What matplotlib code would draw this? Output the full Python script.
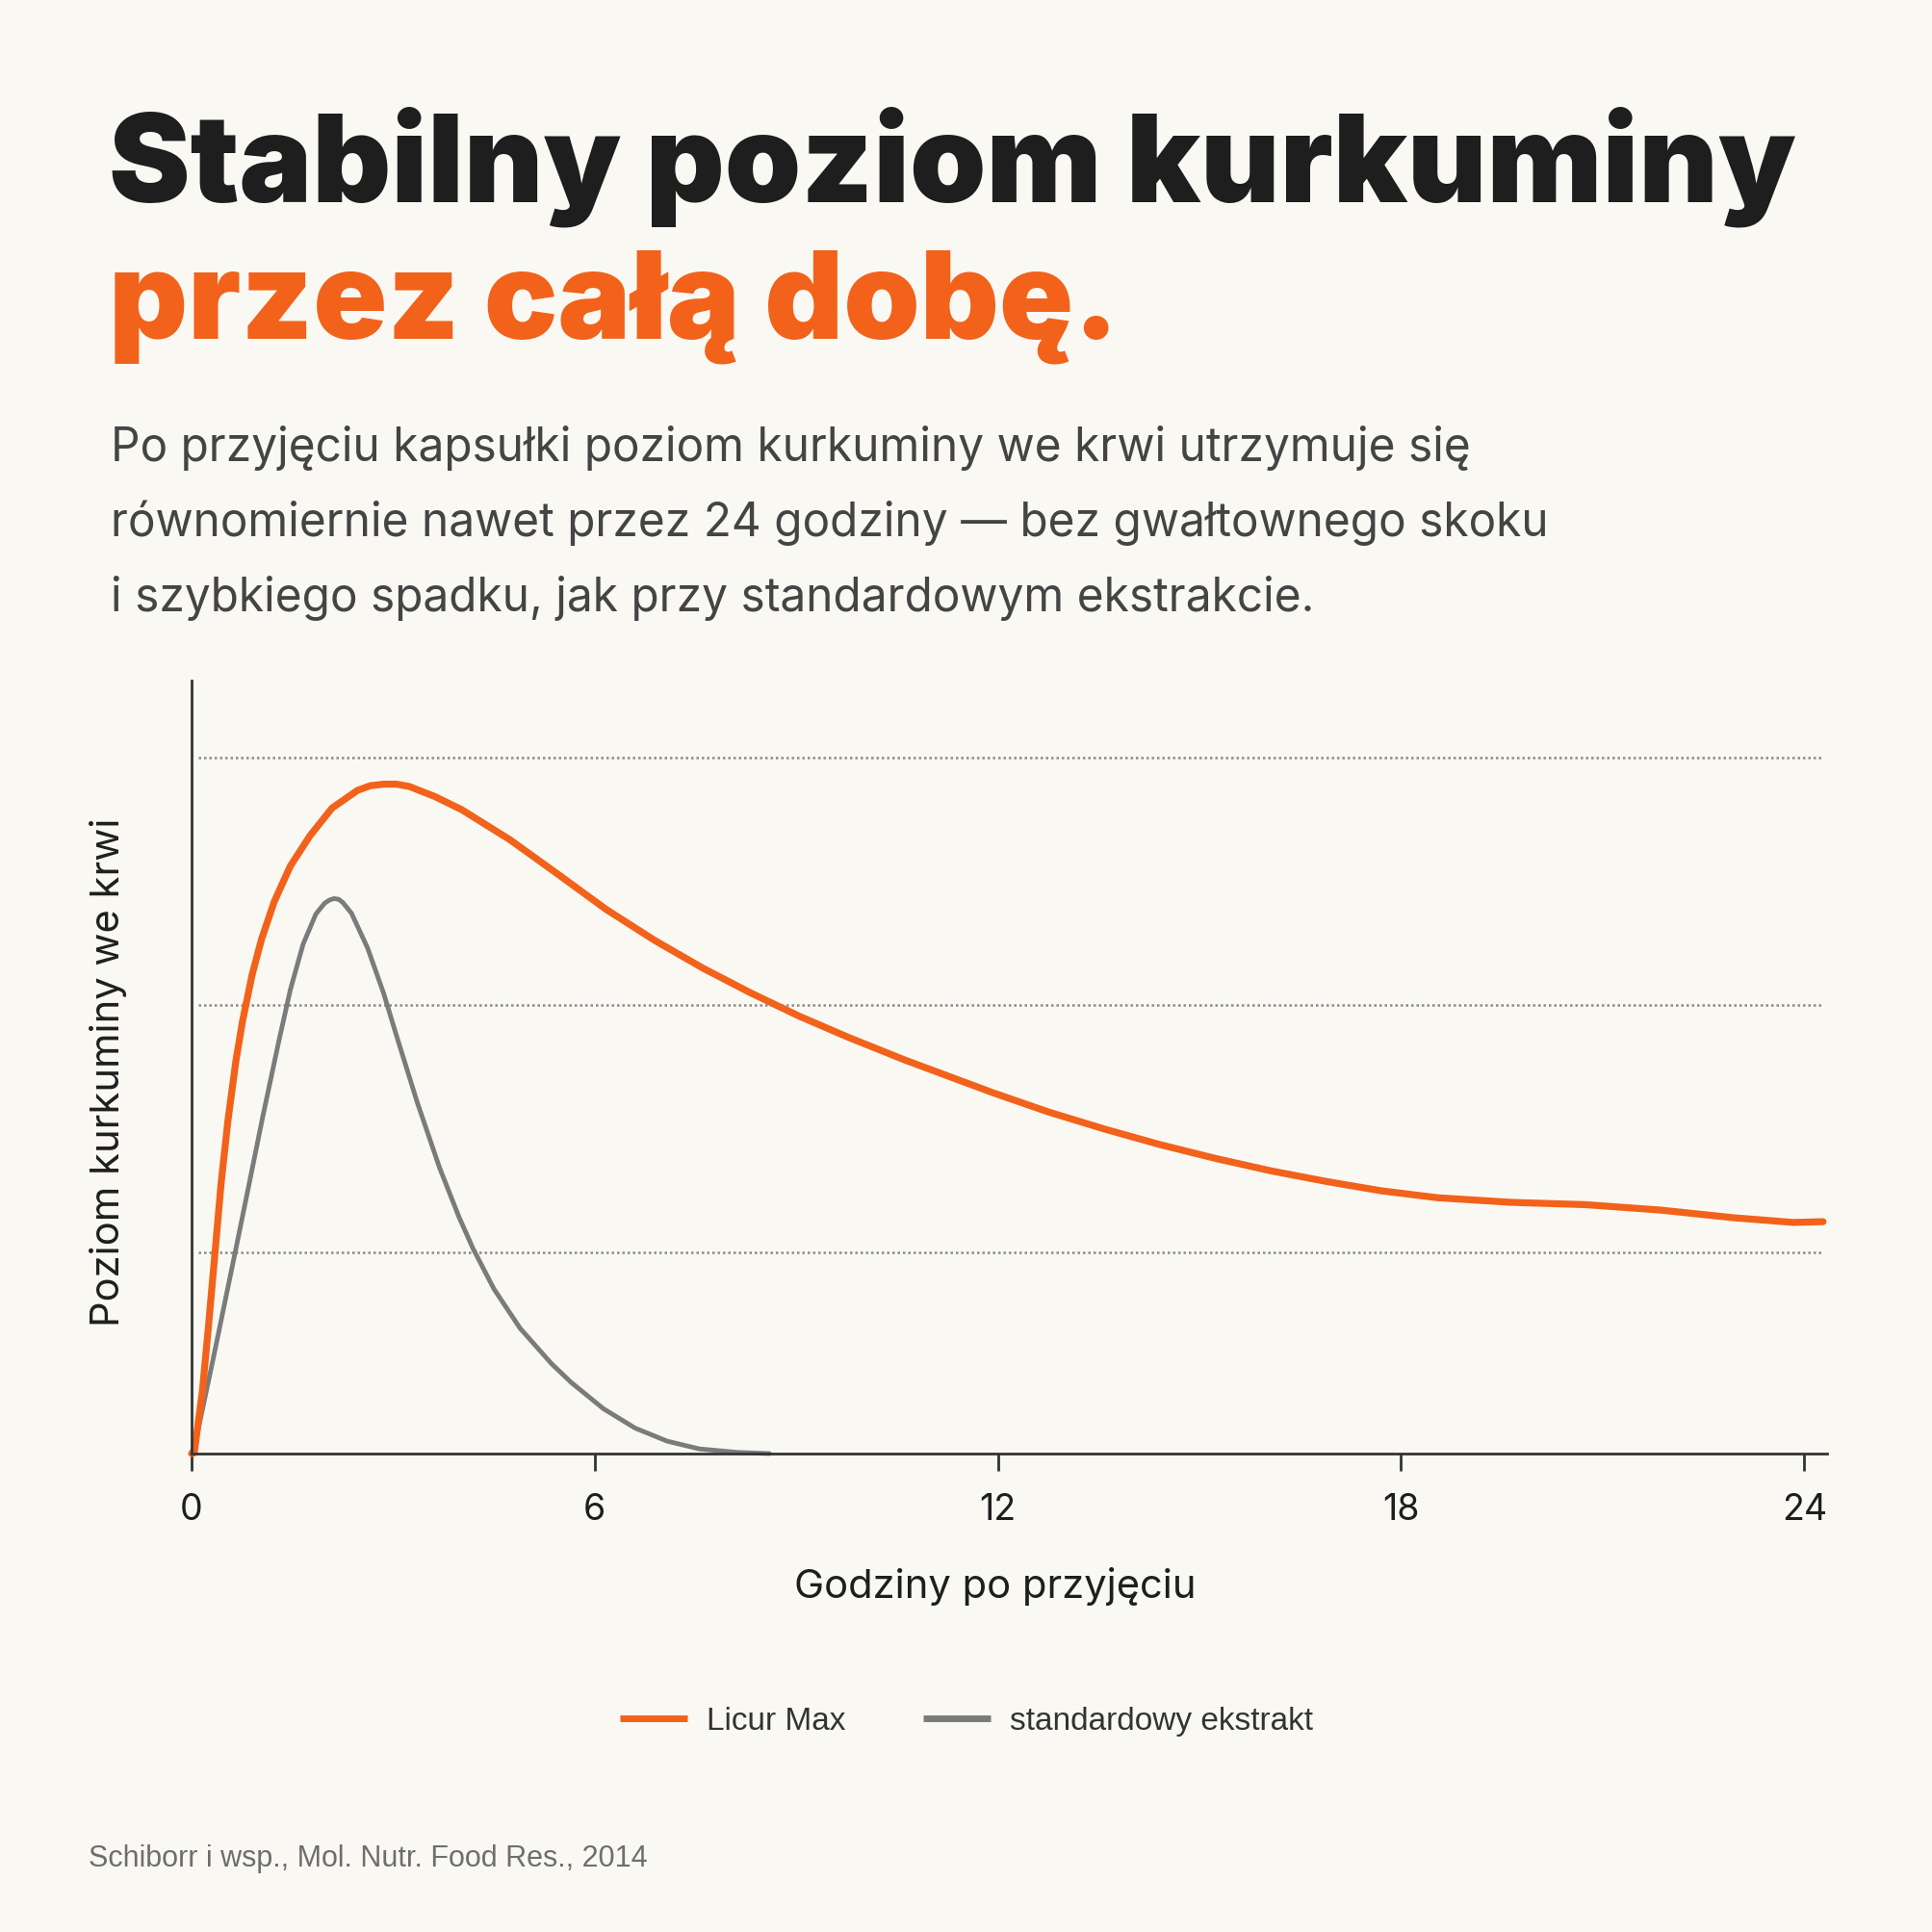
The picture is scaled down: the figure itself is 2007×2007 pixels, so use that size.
import matplotlib
matplotlib.use("Agg")
import matplotlib.pyplot as plt

# godziny i poziom (skala umowna 0-100)
hours_licur = [0, 0.04, 0.16, 0.25, 0.35, 0.44, 0.54, 0.66, 0.76, 0.90, 1.04, 1.23,
               1.47, 1.76, 2.09, 2.47, 2.66, 2.86, 3.05, 3.24, 3.62, 4.02, 4.74, 5.46,
               6.17, 6.89, 7.61, 8.32, 9.04, 9.76, 10.62, 11.92, 12.75, 13.58, 14.4,
               15.23, 16.05, 16.89, 17.7, 18.54, 19.64, 20.75, 21.86, 22.96, 23.84, 24.28]
level_licur = [0, 0.1, 8.0, 16.3, 26.1, 35.0, 43.0, 50.8, 56.0, 61.9, 66.5, 71.4,
               76.0, 79.9, 83.5, 85.8, 86.4, 86.6, 86.6, 86.3, 85.0, 83.3, 79.4, 74.9,
               70.4, 66.4, 62.8, 59.6, 56.6, 53.9, 50.9, 46.7, 44.2, 42.0, 40.0,
               38.2, 36.6, 35.2, 34.0, 33.1, 32.5, 32.2, 31.5, 30.5, 29.9, 30.0]

hours_std = [0, 0.086, 0.325, 0.56, 0.66, 0.85, 1.06, 1.30, 1.47, 1.66, 1.85, 1.98,
             2.05, 2.12, 2.19, 2.25, 2.38, 2.62, 2.86, 3.07, 3.36, 3.69, 3.98, 4.19,
             4.50, 4.89, 5.36, 5.65, 6.13, 6.60, 7.08, 7.56, 8.13, 8.6]
level_std = [0, 2.6, 12.4, 22.3, 26.5, 34.6, 43.6, 53.4, 60.0, 65.9, 69.8, 71.2,
             71.6, 71.8, 71.7, 71.3, 69.9, 65.4, 59.5, 53.5, 45.4, 37.0, 30.6, 26.5,
             21.3, 16.2, 11.6, 9.2, 5.8, 3.3, 1.6, 0.6, 0.15, 0]

x_ticks = [0, 6, 12, 18, 24]
grid_levels = [26, 58, 90]
series_names = ["Licur Max", "standardowy ekstrakt"]

BG = "#FAF8F3"
ORANGE = "#F2621A"
GREY = "#7B7B7B"
DARK = "#1E1E1E"
W = H = 2008

fig = plt.figure(figsize=(20.08, 20.08), dpi=100, facecolor=BG)


def fy(y):
    return 1 - y / H


def fit_width(txt, target_px):
    r = fig.canvas.get_renderer()
    w = txt.get_window_extent(renderer=r).width
    txt.set_fontsize(txt.get_fontsize() * target_px / w)


# naglowek
t1 = fig.text(113 / W, fy(210), "Stabilny poziom kurkuminy", family="Inter",
              fontweight="black", color=DARK, fontsize=100, va="baseline")
fit_width(t1, 1750)
t2 = fig.text(113 / W, fy(352), "przez całą dobę.", family="Inter",
              fontweight="black", color=ORANGE, fontsize=t1.get_fontsize(), va="baseline")

sub = ["Po przyjęciu kapsułki poziom kurkuminy we krwi utrzymuje się",
       "równomiernie nawet przez 24 godziny — bez gwałtownego skoku",
       "i szybkiego spadku, jak przy standardowym ekstrakcie."]
s0 = fig.text(115 / W, fy(479), sub[0], family="Inter", color="#444444",
              fontsize=30, va="baseline")
fit_width(s0, 1415)
for i, line in enumerate(sub[1:]):
    fig.text(115 / W, fy(557 + 78 * i), line, family="Inter", color="#444444",
             fontsize=s0.get_fontsize(), va="baseline")

# wykres
ax = fig.add_axes([199 / W, fy(1511), (1898 - 199) / W, (1511 - 708) / H])
ax.set_facecolor(BG)
ax.set_xlim(0, 24.34)
ax.set_ylim(0, 100)

for lvl in grid_levels:
    ax.plot([0.1, 24.25], [lvl, lvl], color="#8A8A8A", lw=1.8,
            ls=(0, (1, 1.2)), zorder=1)

l1, = ax.plot(hours_licur, level_licur, color=ORANGE, lw=5.2,
              solid_capstyle="round", solid_joinstyle="round", zorder=4, clip_on=False)
l2, = ax.plot(hours_std, level_std, color=GREY, lw=3.5,
              solid_capstyle="round", solid_joinstyle="round", zorder=3, clip_on=False)

for s in ["top", "right"]:
    ax.spines[s].set_visible(False)
for s in ["left", "bottom"]:
    ax.spines[s].set_color("#333333")
    ax.spines[s].set_linewidth(2)
    ax.spines[s].set_zorder(5)

ax.set_yticks([])
ax.set_xticks(x_ticks)
ax.tick_params(axis="x", direction="out", length=13, width=2, color="#333333",
               pad=16, labelsize=27, labelcolor=DARK)
for lab in ax.get_xticklabels():
    lab.set_family("Inter")

fig.text(1034 / W, fy(1660), "Godziny po przyjęciu", family="Inter", fontsize=30,
         color=DARK, ha="center", va="baseline")
fig.text(113 / W, fy(1114), "Poziom kurkuminy we krwi", family="Inter", fontsize=30,
         color=DARK, ha="center", va="center", rotation=90)

leg = ax.legend([l1, l2], series_names, loc="center", bbox_to_anchor=(0.5, fy(1789)),
                bbox_transform=fig.transFigure, ncol=2, frameon=False,
                prop={"family": "Liberation Sans", "size": 24}, labelcolor="#333333",
                handlelength=2.1, handletextpad=0.6, columnspacing=2.4)
for h in leg.get_lines():
    h.set_linewidth(5)
    h.set_solid_capstyle("butt")

fig.text(92 / W, fy(1939), "Schiborr i wsp., Mol. Nutr. Food Res., 2014",
         family="Liberation Sans", fontsize=22, color="#6E6E6E", va="baseline")

fig.savefig("out.png", dpi=100, facecolor=BG)
